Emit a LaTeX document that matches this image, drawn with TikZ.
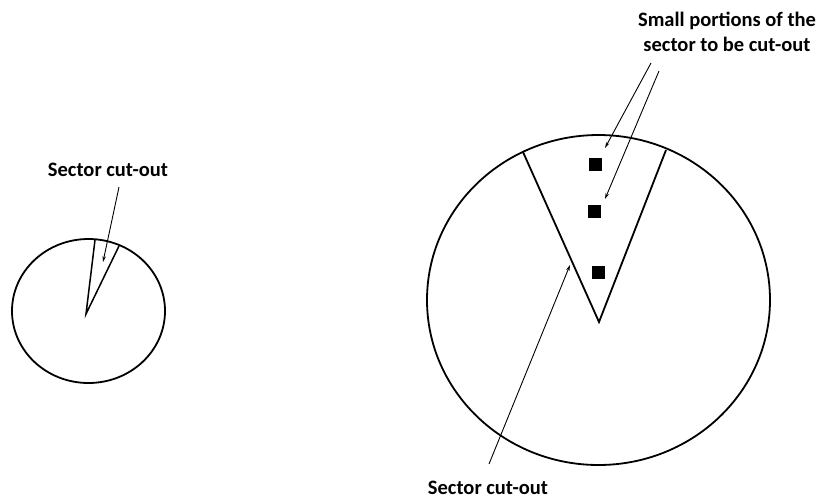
\documentclass[tikz,border=0pt]{standalone}
\usepackage{fontspec}
\setmainfont{Carlito}
\usetikzlibrary{arrows.meta}

\begin{document}
\begin{tikzpicture}[x=1pt,y=-1pt]

% ------------------------------------------------------------------
% Canvas is 825 by 499, y counted downward from the top edge.
% Cut-out portions are specified as: \portion{name}{x}{y}
% ------------------------------------------------------------------
\useasboundingbox (0,0) rectangle (825,499);

\tikzset{
  outline/.style={black, line width=1.8pt},
  pointer/.style={black, line width=0.9pt, -{Stealth[length=6pt,width=3.5pt]}},
  caption/.style={font=\bfseries\fontsize{20.5}{25}\selectfont, align=center, inner sep=1pt}
}

\newcommand{\portion}[3]{%
  \node[fill=black, minimum size=13pt, inner sep=0pt] (#1) at (#2,#3) {};
}

% Small disc with a thin sector.
\draw[outline] (88.5,311) ellipse [x radius=76.5, y radius=72];
\coordinate (apexA) at (86,314);
\draw[outline, line width=1.5pt] (95,240) -- (apexA) -- (119,246);

% Large disc with a wide sector.
\draw[outline] (598.5,300) ellipse [x radius=171.5, y radius=165];
\coordinate (apexB) at (599,322);
\draw[outline] (523,152) -- (apexB) -- (666,150);

% Portions inside the wide sector.
\portion{sqA}{595}{164}
\portion{sqB}{594}{211}
\portion{sqC}{598}{272}

% Labels.
\node[caption] (lblA) at (108,170) {Sector cut-out};
\node[caption] (lblB) at (727,32) {Small portions of the\\sector to be cut-out};
\node[caption, anchor=base] (lblC) at (488,494) {Sector cut-out};

% Arrow ends.
\coordinate (fromA) at (119,187);
\coordinate (toA)   at (103,262);
\coordinate (fromB) at (651,63);
\coordinate (toB)   at (605,148);
\coordinate (fromC) at (659,71);
\coordinate (toC)   at (605,199);
\coordinate (fromD) at (489,464);
\coordinate (toD)   at (570,265);

\draw[pointer] (fromA) -- (toA);
\draw[pointer] (fromB) -- (toB);
\draw[pointer] (fromC) -- (toC);
\draw[pointer] (fromD) -- (toD);

\end{tikzpicture}
\end{document}
